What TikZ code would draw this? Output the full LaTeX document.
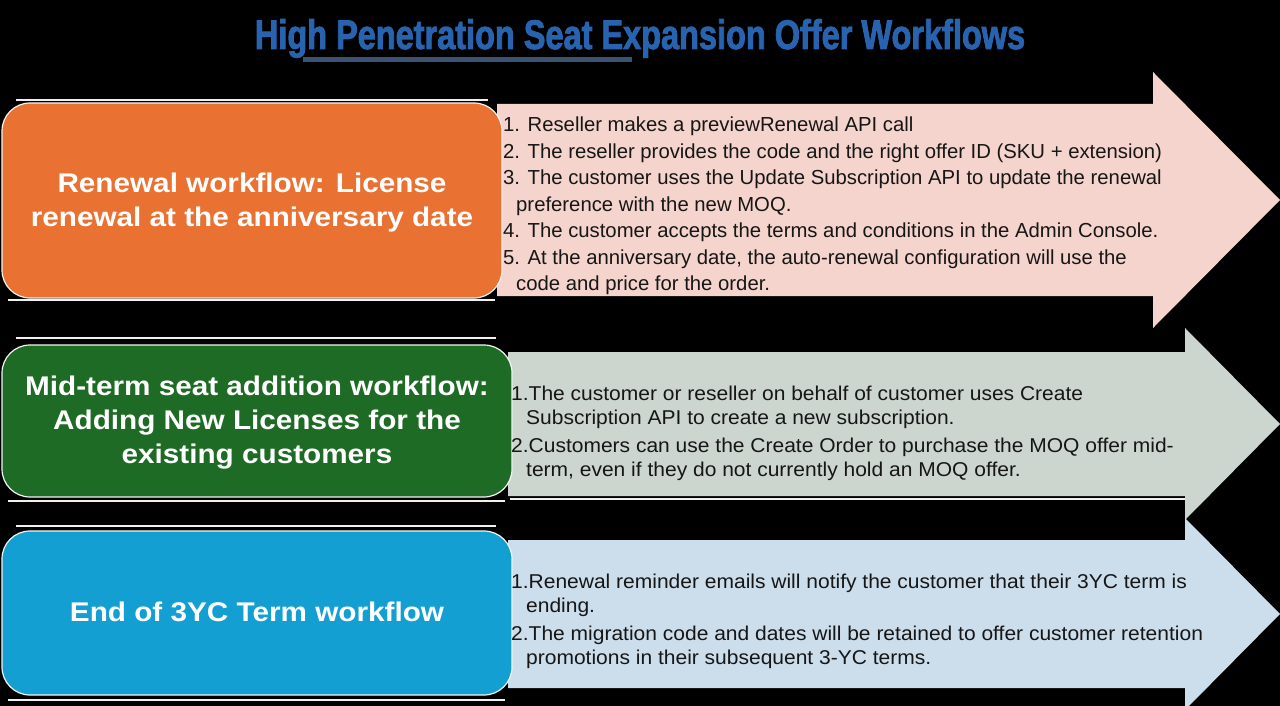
\documentclass[tikz,border=0pt]{standalone}
\usepackage{fontspec}
\setmainfont{Liberation Sans}
\newfontfamily\widefont{Liberation Sans}[FakeStretch=1.05]
\newfontfamily\headfont{Liberation Sans}[FakeStretch=1.1]
\newfontfamily\titlefont{Liberation Sans}[FakeStretch=0.8, FakeBold=2]

\definecolor{titleblue}{HTML}{2763AE}
\definecolor{titlebar}{HTML}{3C5273}
\definecolor{renorange}{HTML}{E97132}
\definecolor{renpink}{HTML}{F5D4CD}
\definecolor{midgreen}{HTML}{1E6B25}
\definecolor{midgray}{HTML}{CDD5CF}
\definecolor{endblue}{HTML}{149FD3}
\definecolor{endpale}{HTML}{CCDDEC}
\definecolor{bodytext}{HTML}{161616}

\tikzset{
  wfbox/.style={draw=white!92!gray, line width=1.2pt, rounded corners=28pt},
  frameline/.style={draw=white!88!gray, line width=1.6pt},
  headtext/.style={text=white, align=center, inner sep=0pt,
    font=\headfont\fontsize{27}{34}\selectfont\bfseries},
  stepsone/.style={text=bodytext, align=left, inner sep=0pt, anchor=west,
    font=\fontsize{20.3}{26.5}\selectfont},
  stepstwo/.style={text=bodytext, align=left, inner sep=0pt, anchor=west,
    font=\widefont\fontsize{20}{24}\selectfont},
}

\begin{document}
\begin{tikzpicture}[x=1pt, y=-1pt]
\useasboundingbox (0,0) rectangle (1280,706);
\fill[black] (0,0) rectangle (1280,706);

% heading
\node[inner sep=0pt, anchor=base, text=titleblue, font=\titlefont\bfseries]
  (title) at (640,49)
  {\resizebox{770pt}{30pt}{High Penetration Seat Expansion Offer Workflows}};
\fill[titlebar] (303,57) rectangle (632,62);

% block arrows carrying the steps
\fill[renpink] (497,104) -- (1153,104) -- (1153,72) -- (1280,200)
  -- (1153,328) -- (1153,296) -- (497,296) -- cycle;
\fill[midgray] (508,352) -- (1185,352) -- (1185,328) -- (1280,424)
  -- (1185,520) -- (1185,496) -- (508,496) -- cycle;
\draw[frameline] (510,499) -- (1185,499);
\fill[endpale] (508,540) -- (1185,540) -- (1185,518) -- (1280,614)
  -- (1185,710) -- (1185,688) -- (508,688) -- cycle;

% workflow boxes
\draw[frameline] (16,100) -- (488,100) (8,300) -- (495,300);
\filldraw[wfbox, fill=renorange] (2,103) rectangle (502,298);
\draw[frameline] (16,338) -- (496,338) (8,501) -- (505,501);
\filldraw[wfbox, fill=midgreen] (2,345) rectangle (512,497);
\draw[frameline] (16,526) -- (496,526) (8,700) -- (505,700);
\filldraw[wfbox, fill=endblue] (2,531) rectangle (512,695);

\node[headtext] (renewal) at (252,203)
  {Renewal workflow: License\\renewal at the anniversary date};
\node[headtext] (midterm) at (257,423)
  {Mid-term seat addition workflow:\\Adding New Licenses for the\\existing customers};
\node[headtext] (endterm) at (257,612) {End of 3YC Term workflow};

% step lists
\node[stepsone] (renewalsteps) at (503,206) {%
1. Reseller makes a previewRenewal API call\\
2. The reseller provides the code and the right offer ID (SKU + extension)\\
3. The customer uses the Update Subscription API to update the renewal\\
\hspace*{13pt}preference with the new MOQ.\\
4. The customer accepts the terms and conditions in the Admin Console.\\
5. At the anniversary date, the auto-renewal configuration will use the\\
\hspace*{13pt}code and price for the order.};

\node[stepstwo] (midtermsteps) at (511,433.5) {%
1.The customer or reseller on behalf of customer uses Create\\
\hspace*{15pt}Subscription API to create a new subscription.\\[4pt]
2.Customers can use the Create Order to purchase the MOQ offer mid-\\
\hspace*{15pt}term, even if they do not currently hold an MOQ offer.};

\node[stepstwo] (endtermsteps) at (511,621.5) {%
1.Renewal reminder emails will notify the customer that their 3YC term is\\
\hspace*{15pt}ending.\\[4pt]
2.The migration code and dates will be retained to offer customer retention\\
\hspace*{15pt}promotions in their subsequent 3-YC terms.};
\end{tikzpicture}
\end{document}
